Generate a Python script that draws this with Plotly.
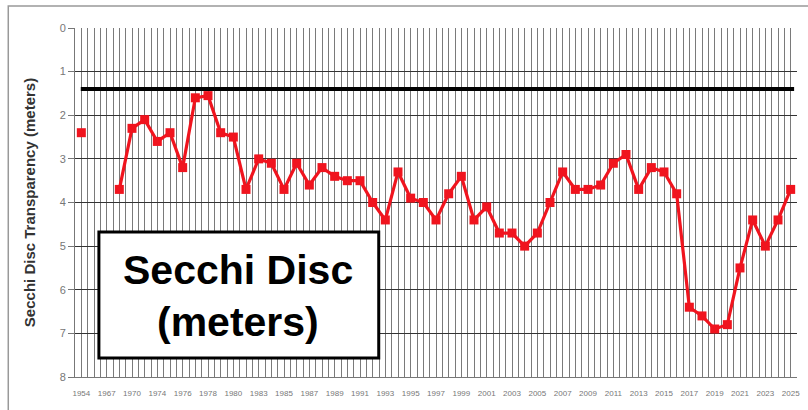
import plotly.graph_objects as go

# ---- data ----
years = ["1954", "1966", "1967", "1969", "1970", "1972", "1974", "1975", "1976", "1977",
         "1978", "1979", "1980", "1982"] + [str(y) for y in range(1983, 2026)]
secchi = [2.4, None, None, 3.7, 2.3, 2.1, 2.6, 2.4, 3.2, 1.6,
          1.55, 2.4, 2.5, 3.7,
          3.0, 3.1, 3.7, 3.1, 3.6, 3.2, 3.4, 3.5, 3.5, 4.0,
          4.4, 3.3, 3.9, 4.0, 4.4, 3.8, 3.4, 4.4, 4.1, 4.7,
          4.7, 5.0, 4.7, 4.0, 3.3, 3.7, 3.7, 3.6, 3.1, 2.9,
          3.7, 3.2, 3.3, 3.8, 6.4, 6.6, 6.9, 6.8, 5.5, 4.4,
          5.0, 4.4, 3.7]
target_depth = 1.4
y_ticks = [0, 1, 2, 3, 4, 5, 6, 7, 8]

idx = list(range(len(years)))
label_idx = idx[::2]
label_txt = [years[i] for i in label_idx]

W, H = 808, 410
L, R, T, B = 75, 8, 28, 33
pw, ph = W - L - R, H - T - B


def px(x):
    return (x - L) / pw


def py(y):
    return (H - B - y) / ph


fig = go.Figure()
fig.add_trace(go.Scatter(
    x=idx, y=secchi, mode="lines+markers",
    line=dict(color="#f0141e", width=3.2),
    marker=dict(symbol="square", size=9, color="#f0141e"),
    connectgaps=False, showlegend=False,
))

fig.update_layout(
    width=W, height=H,
    margin=dict(l=L, r=R, t=T, b=B),
    paper_bgcolor="white", plot_bgcolor="white",
    font=dict(family="Liberation Sans, Arial, sans-serif", color="#777"),
    xaxis=dict(
        range=[-0.5, len(years) - 0.5],
        tickmode="array", tickvals=label_idx, ticktext=label_txt,
        tickfont=dict(size=8, color="#777"),
        showgrid=True, gridcolor="#7a7a7a", gridwidth=1,
        minor=dict(tickmode="linear", tick0=-0.5, dtick=0.5, showgrid=True,
                   gridcolor="#7a7a7a", gridwidth=1),
        zeroline=False, showline=True, linecolor="#777", linewidth=1,
        ticks="", ticklen=0, tickangle=0, ticklabelstandoff=8,
    ),
    yaxis=dict(
        range=[8, 0], tickmode="array", tickvals=y_ticks,
        tickfont=dict(size=11, color="#777"),
        showgrid=True, gridcolor="#333", gridwidth=1,
        zeroline=False, showline=True, linecolor="#777", linewidth=1,
        ticks="outside", ticklen=6, tickcolor="#777",
        title=dict(text="<b>Secchi Disc Transparency (meters)</b>",
                   font=dict(size=15, color="#333"), standoff=20),
    ),
)

# target line
fig.add_shape(type="line", xref="x domain", yref="y",
              x0=0.008, x1=0.996, y0=target_depth, y1=target_depth,
              line=dict(color="black", width=4))

# outer border
fig.add_shape(type="rect", xref="paper", yref="paper",
              x0=px(8), x1=px(W + 20), y0=py(H + 20), y1=py(6),
              line=dict(color="#999", width=1.5), fillcolor="rgba(0,0,0,0)",
              layer="below")

# label box
fig.add_shape(type="rect", xref="paper", yref="paper",
              x0=px(99), x1=px(380), y0=py(358), y1=py(232),
              line=dict(color="black", width=3), fillcolor="white")
fig.add_annotation(xref="paper", yref="paper", x=px(239), y=py(270),
                   text="<b>Secchi Disc</b>", showarrow=False,
                   font=dict(size=41, color="black",
                             family="Liberation Sans, Arial, sans-serif"),
                   xanchor="center", yanchor="middle")
fig.add_annotation(xref="paper", yref="paper", x=px(239), y=py(322),
                   text="<b>(meters)</b>", showarrow=False,
                   font=dict(size=41, color="black",
                             family="Liberation Sans, Arial, sans-serif"),
                   xanchor="center", yanchor="middle")

fig.write_html("out.html", config={"displayModeBar": False},
               post_script="document.body.style.margin='0';document.body.style.overflow='hidden';")
